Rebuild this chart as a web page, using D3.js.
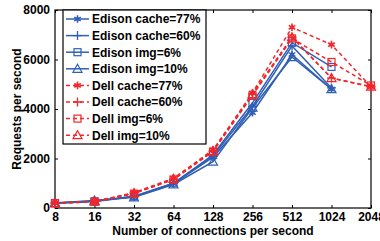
<!DOCTYPE html>
<html>
<head>
<meta charset="utf-8">
<script src="https://cdn.jsdelivr.net/npm/d3@7"></script>
<style>
  body { margin: 0; background: #fff; }
  text { font-family: "Liberation Sans", Arial, sans-serif; font-weight: bold; }
</style>
</head>
<body>
<svg width="380" height="241"></svg>
<script>
// connections per second (x categories, log2 spaced)
const connections = [8, 16, 32, 64, 128, 256, 512, 1024, 2048];
const yTicks = [0, 2000, 4000, 6000, 8000];

// requests per second
const edisonCache77 = [190, 260, 450, 980, 2050, 3850, 6200, 4800];
const edisonCache60 = [200, 280, 460, 1000, 2100, 4100, 6550, 4850];
const edisonImg6 = [200, 270, 480, 1000, 2150, 4250, 6680, 5700];
const edisonImg10 = [200, 300, 430, 950, 1870, 4050, 6100, 4800];
const dellCache77 = [200, 250, 620, 1200, 2350, 4650, 7300, 6600, 4900];
const dellCache60 = [200, 260, 600, 1170, 2300, 4600, 6900, 5250, 4900];
const dellImg6 = [190, 250, 580, 1150, 2280, 4550, 6850, 5900, 4950];
const dellImg10 = [200, 270, 600, 1180, 2300, 4600, 6900, 5250, 4900];

const BLUE = '#2f5fb4';
const RED = '#f2262b';

const series = [
  { name: 'Edison cache=77%', values: edisonCache77, color: BLUE, dash: null, marker: 'star' },
  { name: 'Edison cache=60%', values: edisonCache60, color: BLUE, dash: null, marker: 'plus' },
  { name: 'Edison img=6%', values: edisonImg6, color: BLUE, dash: null, marker: 'square' },
  { name: 'Edison img=10%', values: edisonImg10, color: BLUE, dash: null, marker: 'triangle' },
  { name: 'Dell cache=77%', values: dellCache77, color: RED, dash: '4,3', marker: 'star' },
  { name: 'Dell cache=60%', values: dellCache60, color: RED, dash: '4,3', marker: 'plus' },
  { name: 'Dell img=6%', values: dellImg6, color: RED, dash: '4,3', marker: 'square' },
  { name: 'Dell img=10%', values: dellImg10, color: RED, dash: '4,3', marker: 'triangle' },
];

const M = { left: 55, right: 371, top: 10, bottom: 208 };

const x = d3.scaleLog().base(2).domain([8, 2048]).range([M.left, M.right]);
const y = d3.scaleLinear().domain([0, 8000]).range([M.bottom, M.top]);

const svg = d3.select('svg');

// frame
svg.append('rect')
  .attr('x', M.left).attr('y', M.top)
  .attr('width', M.right - M.left).attr('height', M.bottom - M.top)
  .attr('fill', 'none').attr('stroke', '#000').attr('stroke-width', 1.2);

// axes with inward ticks
svg.append('g')
  .attr('transform', `translate(0,${M.bottom})`)
  .call(d3.axisBottom(x).tickValues(connections).tickFormat(d3.format('d')).tickSizeInner(-3).tickSizeOuter(0).tickPadding(4))
  .call(g => g.select('.domain').remove())
  .call(g => g.selectAll('text').attr('font-size', 12).attr('fill', '#000').attr('dy', '0.71em'));

svg.append('g')
  .attr('transform', `translate(0,${M.top})`)
  .call(d3.axisTop(x).tickValues(connections).tickFormat('').tickSizeInner(-3).tickSizeOuter(0))
  .call(g => g.select('.domain').remove());

svg.append('g')
  .attr('transform', `translate(${M.left},0)`)
  .call(d3.axisLeft(y).tickValues(yTicks).tickFormat(d3.format('d')).tickSizeInner(-3).tickSizeOuter(0).tickPadding(5))
  .call(g => g.select('.domain').remove())
  .call(g => g.selectAll('text').attr('font-size', 12).attr('fill', '#000'));

svg.append('g')
  .attr('transform', `translate(${M.right},0)`)
  .call(d3.axisRight(y).tickValues(yTicks).tickFormat('').tickSizeInner(-3).tickSizeOuter(0))
  .call(g => g.select('.domain').remove());

// axis titles
svg.append('text')
  .attr('x', 213).attr('y', 235)
  .attr('text-anchor', 'middle').attr('font-size', 12)
  .text('Number of connections per second');

svg.append('text')
  .attr('transform', 'translate(21,109) rotate(-90)')
  .attr('text-anchor', 'middle').attr('font-size', 12)
  .text('Requests per second');

function drawMarker(g, type, color, s) {
  if (type === 'star') {
    g.append('path').attr('d', d3.symbol(d3.symbolAsterisk, 40)())
      .attr('stroke', color).attr('stroke-width', 1.6).attr('fill', 'none');
    g.append('circle').attr('r', 1.8).attr('fill', color);
  } else if (type === 'plus') {
    g.append('path').attr('d', `M${-s},0H${s}M0,${-s}V${s}`)
      .attr('stroke', color).attr('stroke-width', 1.3).attr('fill', 'none');
  } else if (type === 'square') {
    g.append('rect').attr('x', -3.5).attr('y', -3.5).attr('width', 7).attr('height', 7)
      .attr('stroke', color).attr('stroke-width', 1.2).attr('fill', 'none');
  } else {
    g.append('path').attr('d', 'M0,-4.5L4.5,3.5L-4.5,3.5Z')
      .attr('stroke', color).attr('stroke-width', 1.2).attr('fill', 'none');
  }
}

const line = d3.line().x((d, i) => x(connections[i])).y(d => y(d));

// edison first, dell on top as in the figure
series.forEach(s => {
  const g = svg.append('g');
  g.append('path')
    .datum(s.values)
    .attr('d', line)
    .attr('fill', 'none')
    .attr('stroke', s.color)
    .attr('stroke-width', 1.5)
    .attr('stroke-dasharray', s.dash);
  s.values.forEach((v, i) => {
    const mg = g.append('g').attr('transform', `translate(${x(connections[i])},${y(v)})`);
    drawMarker(mg, s.marker, s.color, 4.5);
  });
});

// legend
const legend = svg.append('g');
legend.append('rect')
  .attr('x', 63).attr('y', 10).attr('width', 143).attr('height', 134)
  .attr('fill', '#fff').attr('stroke', '#000').attr('stroke-width', 1.2);

series.forEach((s, i) => {
  const ly = 19 + i * 16.6;
  const row = legend.append('g').attr('transform', `translate(0,${ly})`);
  row.append('line')
    .attr('x1', 66).attr('x2', 89).attr('y1', 0).attr('y2', 0)
    .attr('stroke', s.color).attr('stroke-width', 1.5)
    .attr('stroke-dasharray', s.dash);
  drawMarker(row.append('g').attr('transform', 'translate(77.5,0)'), s.marker, s.color, 4.5);
  row.append('text')
    .attr('x', 92).attr('y', 4.3)
    .attr('font-size', 12)
    .text(s.name);
});
</script>
</body>
</html>
